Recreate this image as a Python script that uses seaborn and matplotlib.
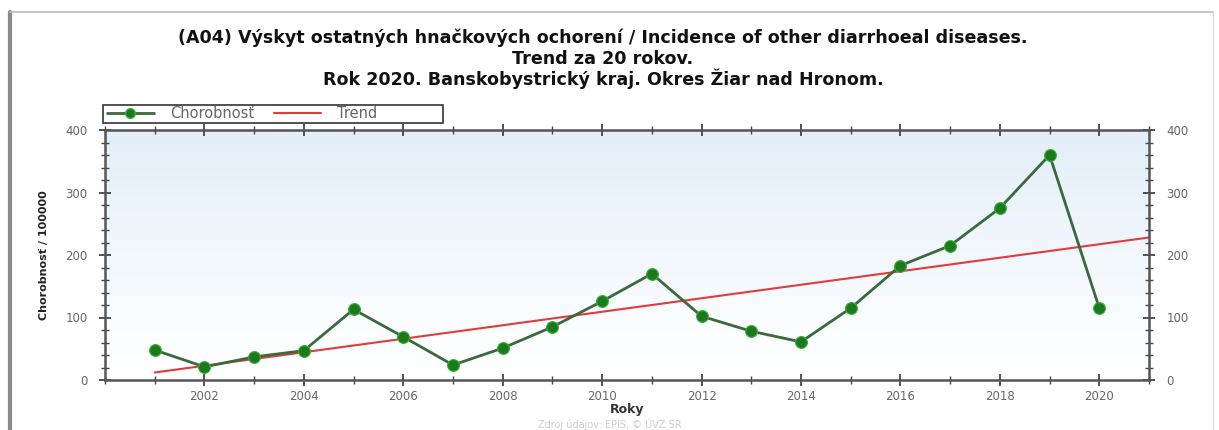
import numpy as np
import pandas as pd
import seaborn as sns
import matplotlib.pyplot as plt
from matplotlib.colors import LinearSegmentedColormap
from matplotlib.lines import Line2D
from matplotlib.patches import Rectangle
from matplotlib.ticker import MultipleLocator, FixedLocator

# data
roky = [2001, 2002, 2003, 2004, 2005, 2006, 2007, 2008, 2009, 2010,
        2011, 2012, 2013, 2014, 2015, 2016, 2017, 2018, 2019, 2020]
chorobnost = [48, 21, 37, 47, 113, 69, 24, 51, 85, 126,
              170, 102, 78, 61, 115, 183, 215, 275, 360, 115]
trend_roky = [2001, 2021]
trend_hodnoty = [12, 228]
roky_popisky = [2002, 2004, 2006, 2008, 2010, 2012, 2014, 2016, 2018, 2020]

titulok = ["(A04) Výskyt ostatných hnačkových ochorení / Incidence of other diarrhoeal diseases.",
           "Trend za 20 rokov.",
           "Rok 2020. Banskobystrický kraj. Okres Žiar nad Hronom."]

df = pd.DataFrame({'rok': roky, 'chorobnost': chorobnost})
df_trend = pd.DataFrame({'rok': trend_roky, 'trend': trend_hodnoty})

sns.set_theme(style='white')
plt.rcParams['font.family'] = ['DejaVu Sans']

W, H = 1219, 430
fig = plt.figure(figsize=(W / 100, H / 100), dpi=100)
ax = fig.add_axes([105 / W, 1 - 380 / H, 1044 / W, 250 / H])

# gradient background (light blue at top -> white towards the bottom)
cmap = LinearSegmentedColormap.from_list(
    'bg', [(0, '#ffffff'), (0.2, '#fbfdff'), (1, '#e3eef9')])
grad = np.linspace(0, 1, 256).reshape(-1, 1)
ax.imshow(grad, extent=[2000, 2021, 0, 400], origin='lower', aspect='auto',
          cmap=cmap, zorder=0)

sns.lineplot(data=df_trend, x='rok', y='trend', ax=ax, color='#e23b3b',
             linewidth=1.5, zorder=2)
sns.lineplot(data=df, x='rok', y='chorobnost', ax=ax, color='#3b693b',
             linewidth=2, marker='o', markersize=8.5, markerfacecolor='#1b7a1b',
             markeredgecolor='#39b039', markeredgewidth=0.8, zorder=3)

ax.set_xlim(2000, 2021)
ax.set_ylim(0, 400)
ax.xaxis.set_major_locator(FixedLocator(roky_popisky))
ax.xaxis.set_minor_locator(MultipleLocator(1))
ax.yaxis.set_major_locator(MultipleLocator(100))
ax.yaxis.set_minor_locator(MultipleLocator(20))
ax.tick_params(which='both', direction='inout', top=True, right=True,
               bottom=True, left=True, labelright=True, colors='#444444',
               labelcolor='#666666', labelsize=8.5)
ax.tick_params(which='major', length=9, width=1.3)
ax.tick_params(which='minor', length=6, width=1)
ax.tick_params(axis='y', pad=8)
ax.tick_params(axis='x', pad=3)
for s in ax.spines.values():
    s.set_color('#555555')
    s.set_linewidth(1.8)

ax.set_xlabel('Roky', fontsize=9, fontweight='bold', color='#333333', labelpad=0)
ax.set_ylabel('Chorobnosť / 100000', fontsize=8, fontweight='bold',
              color='#222222', labelpad=12)

handles = [
    Line2D([], [], color='#3b693b', linewidth=2, marker='o', markersize=7,
           markerfacecolor='#1b7a1b', markeredgecolor='#39b039'),
    Line2D([], [], color='#e23b3b', linewidth=1.5),
]
leg = ax.legend(handles, ['Chorobnosť', 'Trend'], ncol=2,
                loc='center left', bbox_to_anchor=(0.002, 1 + 16 / 250),
                frameon=False, fontsize=10.5, handlelength=3.2,
                columnspacing=1.4, handletextpad=1.1,
                borderaxespad=0, borderpad=0, labelcolor='#666666')
# rectangular legend box
fig.add_artist(Rectangle((103 / W, 1 - 123 / H), 340 / W, 18 / H,
                         transform=fig.transFigure, fill=False,
                         edgecolor='#333333', linewidth=1.2))

for riadok, y_pix in zip(titulok, [38, 58.5, 79]):
    fig.text(603 / W, 1 - y_pix / H, riadok, ha='center', va='center',
             fontsize=12.6, fontweight='bold', color='#111111')

fig.text(610 / W, 1 - 424 / H, 'Zdroj údajov: EPIS, © ÚVZ SR', ha='center',
         va='center', fontsize=7, color='#cccccc')

# outer frame of the original screenshot
fig.add_artist(Line2D([10 / W, 10 / W], [0, 1 - 12 / H],
                      transform=fig.transFigure, color='#8a8a8a', linewidth=3))
fig.add_artist(Line2D([10 / W, 1213 / W], [1 - 12 / H, 1 - 12 / H],
                      transform=fig.transFigure, color='#bbbbbb', linewidth=1.2))
fig.add_artist(Line2D([1213 / W, 1213 / W], [0, 1 - 12 / H],
                      transform=fig.transFigure, color='#dddddd', linewidth=1))

fig.savefig('out.png', dpi=100)
